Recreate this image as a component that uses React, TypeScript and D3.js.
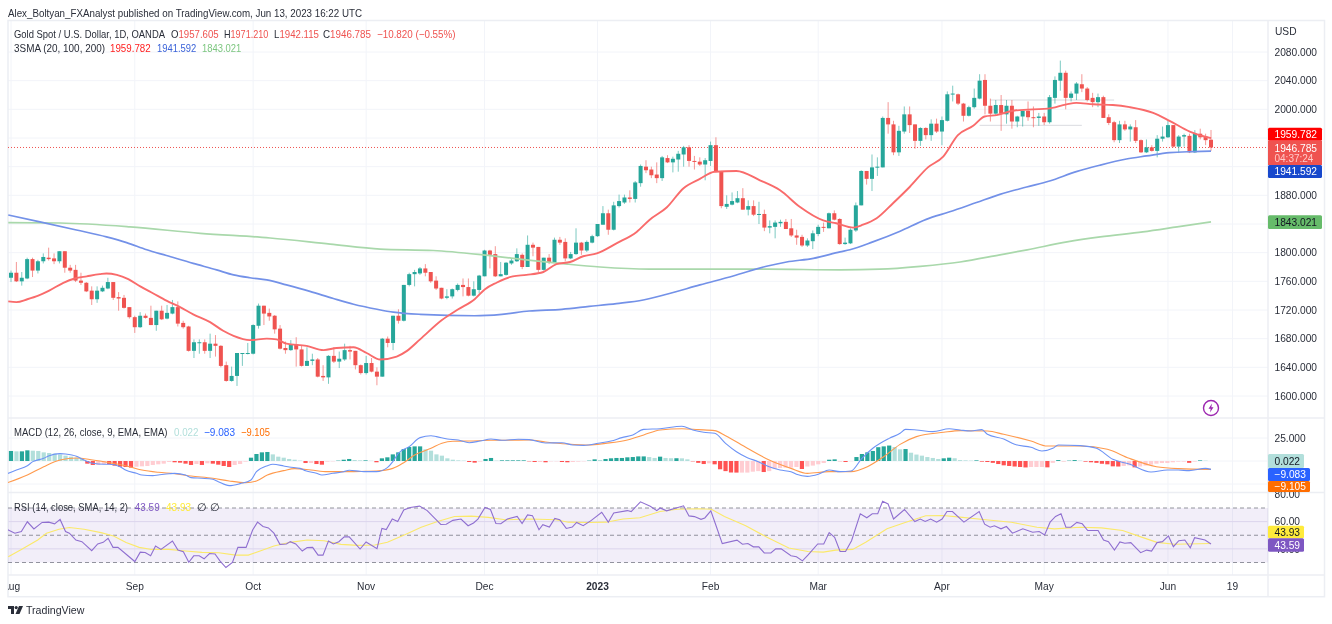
import * as d3 from 'd3';

const opens = [
  1765,1772,1760,1764,1791,1775,1788,1793,1792,1788,
  1802,1779,1776,1761,1758,1747,1735,1746,1750,1759,
  1738,1737,1724,1710,1696,1712,1709,1699,1719,1708,
  1715,1724,1702,1697,1663,1674,1675,1663,1673,1670,
  1643,1621,1628,1659,1659,1659,1698,1726,1716,1712,
  1694,1667,1664,1672,1665,1642,1649,1651,1628,1626,
  1656,1648,1651,1664,1663,1643,1632,1646,1634,1627,
  1680,1674,1712,1705,1755,1770,1771,1778,1773,1761,
  1751,1737,1739,1748,1755,1752,1740,1748,1767,1803,
  1798,1767,1769,1785,1788,1797,1780,1811,1808,1776,
  1793,1786,1818,1815,1792,1798,1814,1803,1814,1823,
  1839,1855,1832,1865,1870,1877,1875,1897,1920,1916,
  1909,1904,1932,1926,1930,1937,1947,1928,1927,1923,
  1928,1950,1913,1864,1867,1870,1876,1860,1865,1853,
  1854,1835,1836,1841,1843,1834,1824,1822,1810,1816,
  1826,1836,1834,1855,1847,1812,1813,1831,1866,1914,
  1903,1919,1919,1988,1979,1940,1969,1993,1979,1956,
  1974,1964,1980,1969,1984,2021,2021,2008,1991,2003,
  2015,2041,2005,1994,2006,1993,2005,1983,1990,1998,
  1989,1988,1990,1982,2016,2040,2051,2016,2022,2035,
  2029,2016,2010,2017,1989,1982,1957,1979,1972,1975,
  1957,1940,1947,1942,1959,1961,1978,1948,1962,1963,
  1940,1966,1962,1957.6,
];
const highs = [
  1775,1787,1773,1793,1793,1790,1799,1807,1799,1802,
  1802,1783,1783,1772,1759,1753,1753,1754,1765,1759,
  1745,1741,1724,1712,1717,1715,1726,1719,1726,1727,
  1734,1732,1705,1698,1679,1679,1679,1687,1685,1671,
  1648,1641,1660,1660,1674,1700,1729,1726,1722,1713,
  1699,1676,1678,1682,1671,1668,1659,1653,1643,1657,
  1668,1662,1673,1670,1663,1644,1656,1653,1640,1681,
  1683,1712,1721,1755,1772,1776,1780,1784,1773,1767,
  1751,1749,1750,1757,1764,1764,1760,1769,1804,1804,
  1809,1787,1787,1792,1806,1799,1824,1814,1808,1793,
  1798,1821,1822,1820,1801,1834,1815,1817,1825,1840,
  1865,1860,1871,1881,1881,1887,1900,1923,1929,1920,
  1926,1935,1936,1934,1942,1949,1950,1935,1933,1932,
  1955,1961,1914,1880,1884,1886,1890,1873,1873,1871,
  1860,1845,1845,1846,1847,1847,1832,1825,1820,1831,
  1839,1842,1856,1859,1848,1821,1834,1870,1915,1914,
  1937,1933,1990,2010,1984,1977,2004,2004,1979,1975,
  1975,1986,1987,1990,2025,2033,2022,2009,2005,2029,
  2049,2049,2015,2013,2020,2013,2013,1991,1998,2011,
  2004,1995,1995,2020,2046,2068,2054,2025,2038,2049,
  2031,2023,2022,2019,1993,1984,1984,1984,1979,1985,
  1958,1958,1950,1964,1976,1984,1978,1964,1966,1966,
  1971,1973,1966,1971.2,
];
const lows = [
  1759,1759,1754,1763,1766,1771,1785,1789,1784,1785,
  1772,1772,1759,1755,1745,1727,1730,1745,1749,1734,
  1719,1722,1708,1688,1695,1708,1699,1691,1706,1707,
  1714,1697,1694,1662,1653,1659,1659,1653,1655,1640,
  1620,1620,1614,1642,1658,1658,1694,1699,1705,1687,
  1665,1659,1663,1641,1641,1642,1643,1626,1621,1617,
  1646,1639,1649,1651,1637,1630,1630,1633,1615,1627,
  1668,1664,1701,1704,1753,1753,1769,1767,1758,1748,
  1735,1735,1736,1746,1739,1739,1739,1743,1767,1778,
  1766,1767,1768,1783,1787,1777,1780,1795,1773,1775,
  1784,1786,1811,1788,1791,1797,1797,1801,1813,1822,
  1839,1825,1831,1863,1868,1870,1870,1892,1911,1904,
  1897,1900,1925,1912,1913,1920,1920,1916,1921,1901,
  1921,1912,1862,1861,1866,1869,1860,1852,1851,1840,
  1830,1827,1820,1836,1833,1822,1811,1808,1808,1805,
  1823,1829,1834,1845,1811,1811,1812,1829,1866,1895,
  1886,1907,1919,1966,1936,1935,1966,1967,1945,1949,
  1958,1956,1967,1950,1983,2011,2006,1983,1990,2001,
  2014,1993,1983,1991,1970,1980,1973,1975,1976,1984,
  1975,1977,1978,1980,2008,2026,2000,2011,2013,2024,
  2011,2003,2003,1988,1978,1954,1953,1970,1955,1953,
  1939,1939,1941,1933,1955,1960,1947,1939,1948,1939,
  1939,1958,1950,1942.1,
];
const closes = [
  1772,1760,1765,1791,1775,1788,1794,1791,1788,1802,
  1779,1775,1761,1758,1746,1735,1747,1751,1759,1737,
  1736,1723,1710,1696,1712,1709,1699,1719,1707,1716,
  1724,1701,1696,1663,1675,1675,1663,1673,1670,1642,
  1621,1628,1660,1660,1660,1699,1726,1715,1711,1693,
  1666,1664,1672,1665,1642,1649,1651,1627,1626,1656,
  1648,1652,1664,1662,1643,1632,1646,1634,1627,1680,
  1674,1712,1705,1755,1770,1773,1778,1772,1760,1750,
  1736,1739,1749,1755,1752,1740,1749,1768,1803,1797,
  1767,1770,1786,1789,1798,1780,1811,1807,1776,1793,
  1786,1818,1814,1792,1798,1814,1803,1815,1823,1840,
  1855,1832,1866,1872,1877,1875,1898,1921,1915,1908,
  1904,1933,1926,1931,1938,1947,1928,1927,1923,1929,
  1950,1913,1865,1868,1872,1876,1860,1865,1853,1854,
  1835,1837,1842,1843,1833,1824,1821,1810,1817,1827,
  1836,1835,1855,1846,1812,1814,1832,1866,1914,1903,
  1919,1920,1988,1979,1940,1970,1993,1978,1956,1974,
  1964,1980,1969,1985,2021,2022,2008,1991,2003,2016,
  2040,2005,1994,2006,1994,2005,1983,1990,1998,1989,
  1988,1990,1982,2017,2041,2051,2016,2022,2036,2029,
  2013,2010,2017,1988,1981,1957,1979,1972,1976,1956,
  1940,1947,1942,1959,1962,1978,1948,1962,1964,1940,
  1966,1961,1957,1946.8,
];

// indicator readings: [position along the session axis 0..220, value]
const sma20 = [
  [-0.5,1732],[1,1731],[3,1735],[5,1740],[7,1747],[9.6,1758],[11.7,1764],[13.9,1767],[16.3,1770],[17.5,1771],
  [19.4,1769],[21.5,1763],[23.7,1753],[26.1,1743],[28.5,1733],[31,1724],[33.4,1714],[36.5,1703],[38.9,1691],[40.8,1684],
  [43.8,1678],[46.9,1680],[48.7,1679],[50.5,1673],[54.2,1670],[57.3,1664],[59.7,1667],[62.8,1668],[65.2,1660],[67.7,1651],
  [70.7,1655],[72.6,1663],[75,1679],[79,1706],[82,1721],[85,1735],[86.9,1749],[89,1758],[92,1767],[94.5,1769],
  [97.6,1773],[100,1784],[102.5,1787],[104.9,1795],[107.4,1799],[111,1813],[114.7,1829],[117.1,1846],[120.2,1863],[123.3,1890],
  [126.3,1903],[129,1913],[133,1914],[137.3,1901],[141,1887],[144.6,1864],[148.9,1845],[151.3,1841],[154.4,1835],[156.2,1839],
  [158.7,1848],[161.7,1869],[164.8,1892],[168.1,1919],[170.9,1934],[173.6,1964],[176.4,1977],[178.5,1990],[180.7,1992],[183.7,1998],
  [187.4,2000],[190.1,2001],[193.5,2007],[195.3,2009],[198.4,2007],[202,2006],[205.1,2003],[209.4,1995],[212.4,1984],[216.1,1969],[220,1959.782],
];
const sma100 = [
  [-0.5,1852.5],[5.3,1843],[12,1831.6],[17.5,1822],[21.2,1814],[24.9,1804],[28.5,1796],[33.4,1785],[37.7,1776],[40.8,1769],
  [43.8,1765],[46.9,1762],[50.5,1755],[54.8,1746],[59.1,1736],[62.8,1728],[67.1,1721],[70.1,1717],[75,1714],[85,1712],
  [90,1714],[95,1718.6],[101,1721],[106,1725],[111,1729],[115.9,1734],[120.2,1742],[126.3,1755],[132.4,1767.5],[138.5,1781],
  [142.2,1787],[147.1,1792],[152,1801],[153.8,1804],[158,1815],[163,1830],[167.8,1846.5],[172.1,1857],[177,1870],[181.3,1881.4],
  [186.2,1891.6],[190.4,1900],[195.3,1913],[199.6,1922],[204.5,1930.7],[208.2,1935],[212.4,1939.6],[216.7,1941],[220,1941.592],
];
const sma200 = [
  [-0.5,1842],[9,1841.4],[21.8,1836],[34.7,1827],[47.5,1820.5],[58.5,1812],[67.7,1805],[77.4,1803],[86.5,1797],[95.7,1789],
  [102,1784],[108,1780],[117,1777],[128,1777],[138.6,1777],[152,1776],[159.3,1777],[166.7,1781],[174,1787],[181.3,1797],
  [186.3,1804],[193.6,1815],[199.7,1822],[207.5,1829],[213.8,1836],[220,1843.021],
];
const macdLine = [
  [-1,-14.5],[1,-9.8],[3,-5.1],[4,-0.7],[6,2.9],[7,5.8],[9,8],[10,7.6],[12,5.1],[13,2.2],
  [15,-2.5],[17,-3.6],[18,-3.6],[20,-6.2],[21,-9.8],[23,-13.4],[24,-15.2],[26,-15.9],[27,-15.2],[29,-13.8],
  [30,-13.4],[32,-15.2],[33,-18.1],[35,-18.8],[37,-19.9],[38,-22.5],[40,-26.8],[42,-24.6],[44,-20.6],[45,-11.6],
  [47,-5.1],[48,-3.6],[50,-5.4],[51,-6.5],[53,-8],[54,-10.5],[56,-13.4],[57,-15.2],[59,-13.4],[61,-11.6],
  [62,-10.1],[64,-11.2],[65,-11.6],[67,-11.6],[69,-7.2],[70,-0.7],[71,8.3],[73,15.6],[75,25.4],[77,27.5],
  [78,26.5],[80,23.9],[82,22.8],[84,19.9],[86,21.7],[88,23.9],[90,22.5],[93,23.6],[95,23.2],[98,19.6],
  [101,19.9],[103,17.4],[105,17],[108,19.6],[110,21.7],[112,25.4],[114,28.3],[116,34.4],[119,35.1],[123,37.7],
  [125,33.7],[127,31.2],[129,30.1],[131,19.2],[133,10.1],[135,3.6],[137,-0.7],[139,-6.2],[141,-9.8],[143,-11.6],
  [144,-14.5],[146,-16.7],[148,-14.5],[150,-9.8],[152,-11.6],[154,-10.9],[156,2.9],[158,13.8],[161,24.6],[163,30.1],
  [164,34.4],[166,33.7],[169,31.9],[172,35.1],[174,33.7],[176,32.6],[178,34.1],[179,29],[182,23.9],[184,18.1],
  [187,14.9],[189,10.9],[191,13.8],[192,17.4],[196,16.7],[199,13.8],[202,1.8],[205,-3.3],[209,-12],[212,-9.8],
  [214,-9.8],[216,-10.5],[219,-8],[220,-9.083],
];
const macdSignal = [
  [-1,-24.3],[3,-15.2],[6,-6.2],[9,1.1],[12,3.3],[15,1.1],[18,-1.8],[21,-5.1],[24,-9.8],[27,-12.3],
  [30,-13.8],[33,-16.3],[37,-18.8],[40,-21.7],[43,-23.5],[45,-21.7],[47,-15.2],[50,-10.5],[52,-8.3],[55,-9.8],
  [58,-11.6],[62,-11.6],[65,-11.2],[67,-10.9],[70,-8],[72,-1.8],[74,6.5],[77,13.8],[79,19.2],[81,21.4],
  [84,21.7],[88,22.5],[91,22.5],[95,22.8],[98,20.7],[102,18.5],[106,17.4],[109,19.2],[113,22.8],[116,28.3],
  [119,33.7],[123,35.1],[126,34.1],[129,33],[131,27.5],[135,13.8],[139,1.1],[143,-8],[146,-13.4],[150,-11.6],
  [154,-11.6],[157,-6.2],[160,4.7],[163,18.1],[166,26.5],[171,31.2],[174,33],[179,32.6],[182,29],[187,21.7],
  [190,16.3],[196,16.3],[201,12.7],[205,2.9],[210,-6.2],[214,-8.3],[220,-9.105],
];
const macdHist = [
  10.9,10.5,10.5,11.6,11.2,10.9,9.4,8.7,8,7.2,
  5.8,4.7,3.6,2.9,-2.9,-4.3,-4.3,-3.3,-3.6,-5.1,
  -6.2,-6.5,-7.2,-6.2,-5.8,-5.4,-4.3,-3.6,-2.9,-1.1,
  -1.4,-1.8,-2.9,-4.3,-3.3,-4.3,-2.5,-2.9,-4,-5.4,
  -6.5,-4.3,-3.3,-0.7,3.6,7.6,9.4,9.8,7.2,4.7,
  3.6,2.2,1.4,0.4,-2.2,-2.2,-3.3,-4,-0.7,-0.4,
  0.4,1.4,2.2,1.1,0.7,0.7,0.2,-1.4,2.9,4,
  7.2,9.4,13,15.2,15.9,15.9,12.7,11.2,7.2,5.8,
  2.9,1.4,0.7,0.4,-1.1,-1.8,-0.7,2.2,3.3,0.4,
  0.7,0.7,0.7,0.7,0.7,-0.4,-1.1,-1.1,-1.4,-0.4,
  -0.4,-1.1,-1.4,-1.1,-0.7,-0.4,0.4,1.8,1.1,2.2,
  2.9,3.3,3.3,4,4.3,5,5,4.3,3.3,4.7,
  3.3,3,3,2.9,1.8,-0.4,-2,-3.3,-2.5,-3.6,
  -9,-11,-12.5,-12.6,-12.6,-12.6,-11.6,-11,-12,-11,
  -8.7,-7.6,-7.2,-7.2,-6.5,-8.7,-6,-5,-3.6,-2.2,
  1.4,1.8,-0.2,-1.1,-0.2,4.3,7.6,9.4,10.9,15,
  15.9,16.8,15.2,12.7,13,9,7,5.8,4.3,3.3,
  2.2,2.9,3.6,3,1,0.7,0.4,0.7,-0.7,-1.1,
  -2,-3.3,-4.7,-5.4,-6,-6.5,-7,-6.5,-6.5,-6.5,
  -6.9,-2,1,-0.2,0.4,1,0.4,-0.7,-1.4,-2,
  -3,-3.6,-5.8,-6,-5.4,-4.7,-6.9,-6,-5,-4,
  -2.9,-2.2,-2.2,-1.4,-0.7,-0.7,-2,-0.7,0.7,0.4,
  0.022,
];
const rsiLine = [
  [-1,54.9],[0.7,51.5],[1.9,52.7],[3,59.9],[4.2,54.6],[5.7,59.4],[6.9,59.6],[8,58.4],[9,61.6],[10,52.7],
  [10.7,51.5],[11.9,46.5],[13,45.3],[14.8,38.7],[15.9,43.6],[16.9,44.8],[17.8,47.8],[18.7,41.1],[19.6,41.1],[22.7,30.7],
  [23.7,37.6],[24.6,37.4],[25.6,34.9],[26.5,42.1],[27.5,39.6],[29.6,45.8],[30.6,39.1],[31.6,37.9],[32.6,30.2],[33.5,34.9],
  [34.5,34.9],[35.4,32.7],[36.4,36.6],[37.4,36.2],[38.3,31.2],[39.4,26.3],[40.6,30],[41.6,41.1],[43.1,41.1],[44.3,53.9],
  [45.2,59.6],[46.2,56.4],[47.2,55.4],[48.2,51.5],[49.3,43.3],[50.5,43.6],[51.2,45.3],[52.2,43.6],[53.4,38.4],[54.3,40.9],
  [55.3,41.1],[56.3,35.4],[57.2,35.4],[58.2,45.8],[59.1,43.6],[60.1,45.3],[61.1,48.8],[62,48.8],[64,39.9],[65.1,45.1],
  [67.1,40.1],[68,55],[68.8,54.2],[69.9,61.9],[70.9,60.1],[72,68.6],[73.2,70.4],[74.9,71.4],[76.3,68.1],[78.8,57.9],
  [79.8,58.1],[81,60.9],[82.5,61.9],[83.8,57],[84.8,59],[85.6,61.9],[86.9,70.4],[87.9,68.9],[88.9,58.6],[89.8,58.4],
  [91,61.9],[92.8,63.8],[93.7,58.6],[94.7,64.9],[95.6,64.4],[96.8,54],[97.5,57.7],[98.7,56],[99.7,62.4],[100.6,61.4],
  [101.8,55],[102.9,56],[103.7,59.4],[104.9,57],[106.4,60.9],[108.3,66.9],[109.5,59.6],[110.5,66.4],[113,68.1],[113.7,67.4],
  [115.4,74.5],[117.2,71.3],[118.4,68.1],[119,70],[120.2,67.9],[123.3,71.6],[124.3,64.2],[125.3,63.7],[126.5,61.7],[127.2,62.7],
  [128.3,67.9],[129.2,57.7],[130.4,43.9],[133.1,46.4],[134.1,43.4],[135.1,43.9],[136.1,41.5],[137.1,41.5],[138.1,37],[139.3,37],
  [140.2,40],[141.2,40],[143,35],[144,34.2],[145.1,31.2],[146.1,35.4],[147.9,43.6],[149,43.6],[150,52],[151,48.5],
  [152,38.1],[153,38.1],[154.1,46],[155.7,65.8],[156.9,62.8],[157.9,65.8],[158.9,65.8],[159.8,75],[160.8,73],[161.8,61.9],
  [163.8,68.9],[165.7,60.1],[166.7,61.9],[167.6,60.1],[168.6,61.9],[169.7,59.6],[170.7,61.9],[171.6,67.4],[172.6,67.4],[174.7,59.6],
  [177.5,67.4],[178.5,58.1],[179.5,55.9],[180.3,56.9],[181.5,54.7],[182.5,56.4],[183.6,51.5],[185.5,54.7],[187.3,52.2],[188.5,52.7],
  [189.5,50.2],[190.5,59.6],[191.5,63.8],[192.5,65.8],[193.4,55.9],[194.3,55.9],[195.4,59.4],[196.4,58.4],[197.4,53.5],[199.3,53.5],
  [200.3,46.5],[201.2,45.3],[202.3,39.1],[203.3,45.1],[204.2,44.1],[205.3,44.6],[207.1,37.2],[208.2,39.1],[209.1,38.4],[210.1,44.6],
  [211.1,45.3],[212.2,49.5],[213.1,41.6],[214.1,46],[215.2,46.5],[216.2,40.8],[217,48.2],[218.9,46.5],[220,43.59],
];
const rsiMa = [
  [-0.5,34.2],[1.9,39.6],[4.9,46.5],[6.5,51.5],[8.8,54.4],[10.7,55.7],[13.4,54.4],[16.5,51.9],[18.8,49.5],[21.1,44.6],
  [23.5,41.1],[25.8,39.6],[28.9,39.6],[32,38.4],[35,37.4],[38.1,37.2],[41.2,35.4],[43.5,35.4],[45.8,38.6],[48.2,42.1],
  [51.2,44.8],[54.3,46.5],[57.4,46],[60.5,43.3],[63.6,42.6],[66.7,42.8],[69,44.8],[72.1,50.2],[75.2,55.9],[78.2,60.1],
  [81.3,63.8],[84.4,64],[87.5,63.1],[90.6,61.4],[95.2,61.9],[99.9,61.4],[102.2,59.6],[106,59.4],[109.1,59.6],[112.2,61.9],
  [115.3,62.8],[119,67.4],[122.1,69.1],[126.1,69.4],[128.4,69.1],[130.8,63.7],[134.7,57],[138.6,48.5],[142.6,40.6],[146.1,38.1],
  [148.9,37.6],[151.2,39.1],[154.3,39.6],[156.7,44.8],[160.6,54.7],[163.8,59.1],[167.7,64.3],[170.8,64.5],[174,63.3],[178.7,61.4],
  [183.4,59.6],[188.1,55.9],[191.3,54.7],[196,55.9],[199.9,55.4],[203.8,53.5],[207,49],[210.1,44.8],[213.3,43.4],[220,43.93],
];

const timeTicks = [
  { bar: 0, label: 'Aug' }, { bar: 23, label: 'Sep' }, { bar: 45, label: 'Oct' }, { bar: 66, label: 'Nov' },
  { bar: 88, label: 'Dec' }, { bar: 109, label: '2023', bold: true }, { bar: 130, label: 'Feb' }, { bar: 150, label: 'Mar' },
  { bar: 173, label: 'Apr' }, { bar: 192, label: 'May' }, { bar: 215, label: 'Jun' }, { bar: 227, label: '19' },
];
const priceGrid = [1600,1640,1680,1720,1760,1800,1840,1880,1920,1960,2000,2040,2080];
const priceLabels = [1600,1640,1680,1720,1760,1800,1880,2000,2040,2080];
// drawn support / resistance levels: [first bar, last bar, price]
const levels = [[180, 199, 1977.7], [182, 205, 2013]];

const UP = '#26a69a';
const DOWN = '#ef5350';
const UP_PALE = '#b2dfdb';
const DOWN_PALE = '#ffcdd2';
const GRID = '#f2f4f9';
const BORDER = '#eceef3';
const INK = '#2a2e39';
const FONT = '"Liberation Sans", Arial, sans-serif';

const left = 8;
const right = 1268;
const outerRight = 1324.5;
const top = 20.5;
const paneTwo = 418;
const paneThree = 492.5;
const axisTop = 575;
const bottom = 596.7;

const xBar = d3.scaleLinear().domain([0, opens.length - 1]).range([11, 1211]);
const xKnot = d3.scaleLinear().domain([0, 220]).range([11, 1211]);
const xHist = d3.scaleLinear().domain([0, macdHist.length - 1]).range([11, 1211]);
const yPrice = d3.scaleLinear().domain([1600, 2080]).range([396, 52]);
const yMacd = d3.scaleLinear().domain([-25, 25]).range([484, 438]);
const yRsi = d3.scaleLinear().domain([30, 70]).range([562.5, 508]);

const linePath = (y: d3.ScaleLinear<number, number>, curve: d3.CurveFactory = d3.curveLinear) =>
  d3.line<number[]>().x(d => xKnot(d[0])).y(d => y(d[1])).curve(curve);

// the published screenshot is squeezed sideways, so legend texts are fitted to their measured width
const Fit = ({ x, y, w, fill, children }: { x: number; y: number; w: number; fill?: string; children: any }) => (
  <text x={x} y={y} fill={fill} textLength={w} lengthAdjust="spacingAndGlyphs">{children}</text>
);

const Tag = ({ y, h, w = 54, fill, color, text }: { y: number; h: number; w?: number; fill: string; color: string; text: string }) => (
  <g>
    <rect x={right} y={y} width={w} height={h} rx={1.5} fill={fill} />
    <text x={right + 6.5} y={y + h / 2 + 3.8} fontSize={10.2} fill={color}>{text}</text>
  </g>
);

export default function App() {
  const smooth = d3.curveMonotoneX;
  return (
    <svg width={1332} height={624} style={{ position: 'absolute', left: 0, top: 0, background: '#fff', filter: 'blur(0.35px)' }} fontFamily={FONT}>
      <defs>
        <clipPath id="plot"><rect x={left} y={top} width={right - left} height={axisTop - top} /></clipPath>
        <clipPath id="time"><rect x={left} y={axisTop} width={right - left} height={bottom - axisTop} /></clipPath>
      </defs>

      {/* grid */}
      {timeTicks.map(t => (
        <line key={t.label} x1={xBar(t.bar)} x2={xBar(t.bar)} y1={top} y2={axisTop} stroke={GRID} />
      ))}
      {priceGrid.map(p => (
        <line key={p} x1={left} x2={right} y1={yPrice(p)} y2={yPrice(p)} stroke={GRID} />
      ))}
      {[-25, 0, 25].map(v => (
        <line key={v} x1={left} x2={right} y1={yMacd(v)} y2={yMacd(v)} stroke={GRID} />
      ))}
      {[40, 60].map(v => (
        <line key={v} x1={left} x2={right} y1={yRsi(v)} y2={yRsi(v)} stroke="#e6e3f2" />
      ))}

      {/* frame */}
      <rect x={left} y={top} width={outerRight - left} height={bottom - top} fill="none" stroke={BORDER} strokeWidth={1.5} />
      <line x1={right} x2={right} y1={top} y2={bottom} stroke={BORDER} strokeWidth={1.5} />
      {[paneTwo, paneThree, axisTop].map(y => (
        <line key={y} x1={left} x2={outerRight} y1={y} y2={y} stroke={BORDER} strokeWidth={1.5} />
      ))}

      <g clipPath="url(#plot)">
        {/* hand drawn levels */}
        {levels.map(([a, b, p]) => (
          <line key={p} x1={xBar(a)} x2={xBar(b)} y1={yPrice(p)} y2={yPrice(p)} stroke="#d9dbe0" strokeWidth={1} />
        ))}

        <line x1={left} x2={right} y1={yPrice(1946.785)} y2={yPrice(1946.785)} stroke={DOWN} strokeDasharray="1 2" />

        {/* candles */}
        {opens.map((o, i) => {
          const c = closes[i];
          const color = c >= o ? UP : DOWN;
          const yTop = yPrice(Math.max(o, c));
          const yBot = yPrice(Math.min(o, c));
          return (
            <g key={i}>
              <line x1={xBar(i)} x2={xBar(i)} y1={yPrice(highs[i])} y2={yPrice(lows[i])} stroke={color} strokeOpacity={0.6} strokeWidth={1} />
              <rect x={xBar(i) - 2} width={4} y={yTop} height={Math.max(1, yBot - yTop)} fill={color} />
            </g>
          );
        })}

        <path d={linePath(yPrice, smooth)(sma200) || ''} fill="none" stroke="#a9d8ab" strokeWidth={1.7} />
        <path d={linePath(yPrice, smooth)(sma100) || ''} fill="none" stroke="#7391e8" strokeWidth={1.7} />
        <path d={linePath(yPrice, smooth)(sma20) || ''} fill="none" stroke="#f96b6b" strokeWidth={1.9} />

        {/* MACD */}
        {macdHist.map((v, i) => {
          const prev = i > 0 ? macdHist[i - 1] : v;
          const fill = v >= 0 ? (v >= prev ? UP : UP_PALE) : (v < prev ? '#ff5252' : DOWN_PALE);
          const y0 = yMacd(0);
          const y1 = yMacd(v);
          return <rect key={i} x={xHist(i) - 2.1} width={4.2} y={Math.min(y0, y1)} height={Math.abs(y1 - y0)} fill={fill} />;
        })}
        <path d={linePath(yMacd, smooth)(macdSignal) || ''} fill="none" stroke="#ff9a4d" strokeWidth={1.1} />
        <path d={linePath(yMacd, smooth)(macdLine) || ''} fill="none" stroke="#6d93f5" strokeWidth={1.1} />

        {/* RSI */}
        <rect x={left} width={right - left} y={yRsi(70)} height={yRsi(30) - yRsi(70)} fill="#7e57c2" fillOpacity={0.1} />
        {[70, 50, 30].map(v => (
          <line key={v} x1={left} x2={right} y1={yRsi(v)} y2={yRsi(v)} stroke="#787b86" strokeDasharray="4 3" strokeOpacity={0.8} />
        ))}
        <path d={linePath(yRsi)(rsiMa) || ''} fill="none" stroke="#fbe96a" strokeWidth={1.1} />
        <path d={linePath(yRsi)(rsiLine) || ''} fill="none" stroke="#8f6fd0" strokeWidth={1.1} />
      </g>

      {/* legends */}
      <g fontSize={10.6} fill={INK}>
        <Fit x={8} y={17} w={354}>Alex_Boltyan_FXAnalyst published on TradingView.com, Jun 13, 2023 16:22 UTC</Fit>
        <Fit x={14} y={38} w={151}>Gold Spot / U.S. Dollar, 1D, OANDA</Fit>
        <Fit x={171} y={38} w={47.7}>O<tspan fill={DOWN}>1957.605</tspan></Fit>
        <Fit x={224} y={38} w={44.3}>H<tspan fill={DOWN}>1971.210</tspan></Fit>
        <Fit x={274} y={38} w={45}>L<tspan fill={DOWN}>1942.115</tspan></Fit>
        <Fit x={323} y={38} w={48}>C<tspan fill={DOWN}>1946.785</tspan></Fit>
        <Fit x={377} y={38} w={78.5} fill={DOWN}>−10.820 (−0.55%)</Fit>
        <Fit x={14} y={52} w={91}>3SMA (20, 100, 200)</Fit>
        <Fit x={110} y={52} w={40.7} fill="#ff2020">1959.782</Fit>
        <Fit x={157} y={52} w={39.3} fill="#3a62d8">1941.592</Fit>
        <Fit x={202} y={52} w={39.3} fill="#7cc67f">1843.021</Fit>

        <Fit x={14} y={436} w={153.5}>MACD (12, 26, close, 9, EMA, EMA)</Fit>
        <Fit x={174} y={436} w={24.5} fill={UP_PALE}>0.022</Fit>
        <Fit x={204} y={436} w={31} fill="#2962ff">−9.083</Fit>
        <Fit x={241} y={436} w={29} fill="#ff6d00">−9.105</Fit>

        <Fit x={14} y={511} w={114}>RSI (14, close, SMA, 14, 2)</Fit>
        <Fit x={134.7} y={511} w={25} fill="#7e57c2">43.59</Fit>
        <Fit x={166} y={511} w={25} fill="#ffeb3b">43.93</Fit>
        <text x={197} y={511}>∅ ∅</text>
      </g>

      {/* price axis */}
      <g fontSize={10.2} fill={INK}>
        <text x={1275} y={35}>USD</text>
        {priceLabels.map(p => (
          <text key={p} x={1274.5} y={yPrice(p) + 3.7}>{d3.format('.3f')(p)}</text>
        ))}
        <text x={1274.5} y={yMacd(25) + 3.7}>25.000</text>
        <text x={1274.5} y={yRsi(80) + 3.7}>80.00</text>
        <text x={1274.5} y={yRsi(60) + 3.7}>60.00</text>
        <text x={1274.5} y={yRsi(40) + 3.7}>40.00</text>
      </g>

      <Tag y={127.7} h={13} fill="#ff0000" color="#fff" text="1959.782" />
      <g>
        <rect x={right} y={140.7} width={54} height={24.3} fill={DOWN} />
        <text x={right + 6.5} y={151.5} fontSize={10.2} fill="#fff">1946.785</text>
        <text x={right + 6.5} y={161.5} fontSize={10} fill="#ffc9c7">04:37:24</text>
      </g>
      <Tag y={165} h={13} fill="#1848cc" color="#fff" text="1941.592" />
      <Tag y={215.3} h={13.7} fill="#66bb6a" color="#131722" text="1843.021" />

      <Tag y={454} h={14} w={36} fill={UP_PALE} color="#131722" text="0.022" />
      <Tag y={468} h={13} w={42} fill="#2962ff" color="#fff" text="−9.083" />
      <Tag y={481} h={11} w={42} fill="#ff6d00" color="#fff" text="−9.105" />

      <Tag y={525.7} h={12.6} w={36} fill="#ffeb3b" color="#131722" text="43.93" />
      <Tag y={538.3} h={13.4} w={36} fill="#7e57c2" color="#fff" text="43.59" />

      {/* time axis */}
      <g clipPath="url(#time)" fontSize={10.2} fill={INK} textAnchor="middle">
        {timeTicks.map(t => (
          <text key={t.label} x={xBar(t.bar)} y={590} fontWeight={t.bold ? 700 : 400}>{t.label}</text>
        ))}
      </g>

      {/* data-update marker */}
      <g transform="translate(1211,408)">
        <circle r={7.5} fill="#fff" stroke="#9c27b0" strokeWidth={1.4} />
        <path d="M1 -4.5 L-2.5 0.8 H-0.3 L-1 4.5 L2.5 -0.8 H0.3 Z" fill="#9c27b0" />
      </g>

      {/* TradingView mark */}
      <g transform="translate(8,606)" fill={INK}>
        <path d="M0 0 H6 V8 H3 V3 H0 Z" />
        <circle cx={8.2} cy={1.6} r={1.6} />
        <path d="M11 0 H15 L11.5 8 H7.5 Z" />
      </g>
      <text x={26} y={614} fontSize={10.6} fill={INK}>TradingView</text>
    </svg>
  );
}
